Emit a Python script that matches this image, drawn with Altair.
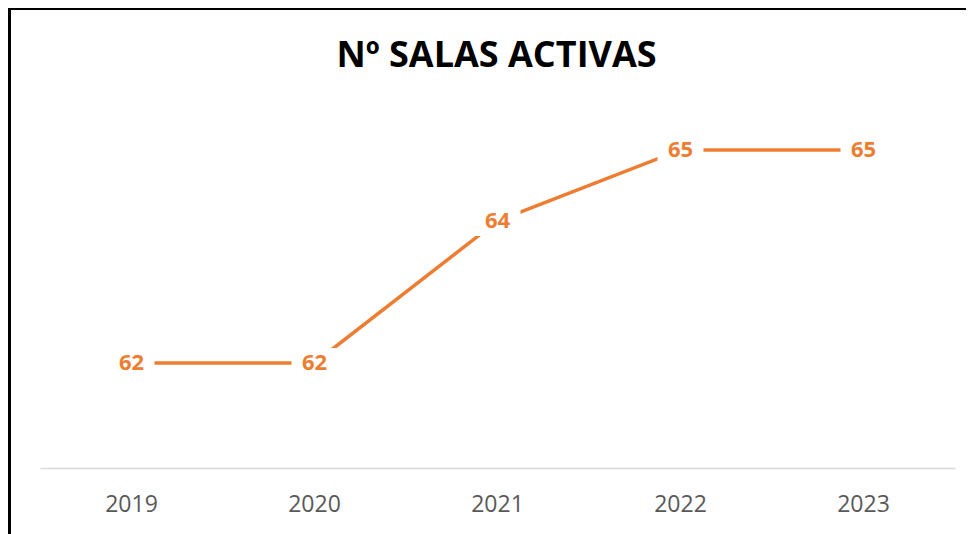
import altair as alt
import pandas as pd

years = ["2019", "2020", "2021", "2022", "2023"]
salas = [62, 62, 64, 65, 65]
title_text = "Nº SALAS ACTIVAS"

df = pd.DataFrame({"year": years, "salas": salas})

ORANGE = "#ED7D31"
PW, PH = 915, 389
PAD_L, PAD_T = 32, 71
TOTAL_W, TOTAL_H = 958, 526

x = alt.X("year:N", sort=years, axis=alt.Axis(
    title=None, labelAngle=0, labelFont="Open Sans", labelFontSize=23,
    labelColor="#595959", domainColor="#D9D9D9", domainWidth=1.5,
    ticks=False, labelPadding=25, grid=False),
    scale=alt.Scale(paddingInner=0, paddingOuter=0))
y = alt.Y("salas:Q", axis=None, scale=alt.Scale(domain=[60.52, 66], zero=False, nice=False))

base = alt.Chart(df)

line = base.mark_line(color=ORANGE, strokeWidth=3.5).encode(x=x, y=y)
boxes = base.mark_rect(color="white", width=46, height=30).encode(x=x, y=y)
labels = base.mark_text(font="Open Sans", fontSize=22, fontWeight="bold",
                        color=ORANGE, align="center", baseline="middle").encode(
    x=x, y=y, text="salas:Q")

one = alt.Chart(pd.DataFrame({"t": [title_text]}))
title = one.mark_text(font="Open Sans", fontSize=36, fontWeight="bold", color="black",
                      align="center", baseline="alphabetic").encode(
    x=alt.value(PW / 2 - 1), y=alt.value(67 - 8 - PAD_T), text="t:N")

border = one.mark_rect(
    fill="transparent", stroke="black", strokeWidth=3, clip=False).encode(
    x=alt.value(-PAD_L + 1.5), x2=alt.value(PW + 300),
    y=alt.value(-PAD_T + 0.5), y2=alt.value(PH + 300))

chart = alt.layer(line, boxes, labels, title, border).properties(
    width=PW, height=PH,
    padding={"left": PAD_L, "top": PAD_T, "right": TOTAL_W - PAD_L - PW,
             "bottom": TOTAL_H - PAD_T - PH},
    autosize=alt.AutoSizeParams(type="none"),
).configure(background="white", view=alt.ViewConfig(stroke=None, strokeWidth=0))

chart.save("out.html", embed_options={"renderer": "svg", "actions": False})
